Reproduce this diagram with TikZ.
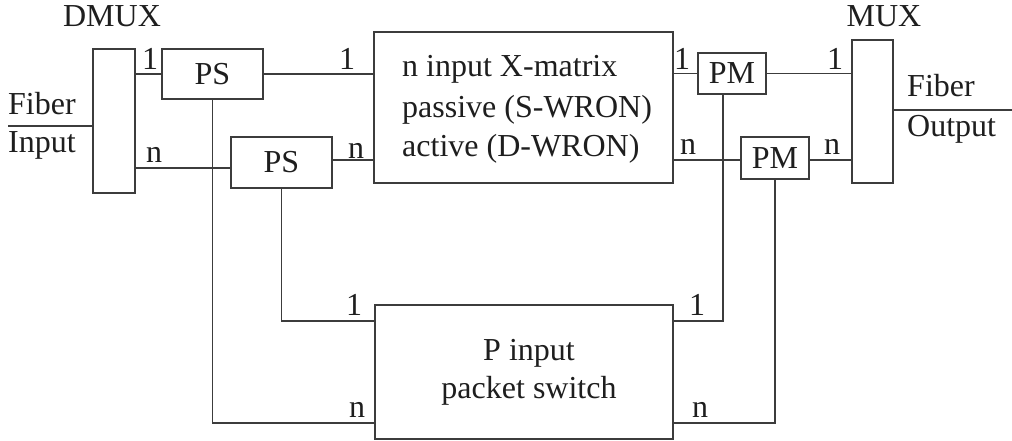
\documentclass[tikz,border=0pt]{standalone}
\usepackage{fontspec}
\setmainfont{Liberation Serif}
\definecolor{linec}{RGB}{60,60,60}
\definecolor{textc}{RGB}{30,30,30}
\begin{document}
\begin{tikzpicture}[x=1pt,y=-1pt,
  box/.style={draw=linec, line width=1.6pt, inner sep=0pt, text=textc,
              font=\fontsize{32}{38}\selectfont},
  txt/.style={inner sep=0pt, text=textc, font=\fontsize{32}{38}\selectfont},
  lbl/.style={txt, anchor=base},
  wire/.style={draw=linec, line width=1.6pt}]
\useasboundingbox[fill=white] (0,0) rectangle (1012,441);

% boxes
\node[box, minimum width=42pt, minimum height=144pt] (dmux) at (114,121) {};
\node[box, minimum width=101pt, minimum height=50pt] (ps1) at (212.5,74) {PS};
\node[box, minimum width=101pt, minimum height=51pt] (ps2) at (281.5,162.5) {PS};
\node[box, minimum width=299pt, minimum height=151pt] (xm) at (523.5,107.5) {};
\node[box, minimum width=68pt, minimum height=41pt] (pm1) at (732,73.5) {PM};
\node[box, minimum width=68pt, minimum height=42pt] (pm2) at (775,158) {PM};
\node[box, minimum width=41pt, minimum height=143pt] (mux) at (872.5,111.5) {};
\node[box, minimum width=298pt, minimum height=134pt] (pk) at (524,372) {};

% texts
\node[txt, anchor=base west] (xmt1) at (402,77) {n input X-matrix};
\node[txt, anchor=base west] (xmt2) at (402,118) {passive (S-WRON)};
\node[txt, anchor=base west] (xmt3) at (402,157) {active (D-WRON)};
\node[lbl] (pkt1) at (529,360) {P input};
\node[lbl] (pkt2) at (529,398) {packet switch};
\node[lbl] (dmuxt) at (112,27) {DMUX};
\node[lbl] (muxt) at (884,27) {MUX};
\node[txt, anchor=base west] (fin1) at (8,115) {Fiber};
\node[txt, anchor=base west] (fin2) at (8,153) {Input};
\node[txt, anchor=base west] (fout1) at (907,97) {Fiber};
\node[txt, anchor=base west] (fout2) at (907,137) {Output};

% free ends
\coordinate (fin) at (8,126);
\coordinate (fout) at (1012,110);

% connectors
\draw[wire] (fin) -- (fin -| dmux.west);
\draw[wire] (ps1.west -| dmux.east) -- (ps1.west);
\draw[wire] ([yshift=-5.5pt]ps2.west -| dmux.east) -- ([yshift=-5.5pt]ps2.west);
\draw[wire] (ps1.east) -- (ps1.east -| xm.west);
\draw[wire] ([yshift=2.5pt]ps2.east) -- ([yshift=2.5pt]ps2.east -| xm.west);
\draw[wire] (pm1.west -| xm.east) -- (pm1.west);
\draw[wire] ([yshift=-2pt]pm2.west -| xm.east) -- ([yshift=-2pt]pm2.west);
\draw[wire] (pm1.east) -- (pm1.east -| mux.west);
\draw[wire] ([yshift=-2pt]pm2.east) -- ([yshift=-2pt]pm2.east -| mux.west);
\draw[wire] (fout -| mux.east) -- (fout);
\draw[wire] (ps1.south) |- ([yshift=-51pt]pk.west);
\draw[wire] (ps2.south) |- ([yshift=51pt]pk.west);
\draw[wire] ([xshift=-9pt]pm1.south) |- ([yshift=51pt]pk.east);
\draw[wire] (pm2.south) |- ([yshift=-51pt]pk.east);

% port labels
\node[lbl] (l1) at (150,70) {1};
\node[lbl] (l2) at (154,163) {n};
\node[lbl] (l3) at (347,70) {1};
\node[lbl] (l4) at (356,158) {n};
\node[lbl] (l5) at (682,70) {1};
\node[lbl] (l6) at (688,155) {n};
\node[lbl] (l7) at (835,70) {1};
\node[lbl] (l8) at (832,155) {n};
\node[lbl] (l9) at (354,315) {1};
\node[lbl] (l10) at (357,417) {n};
\node[lbl] (l11) at (697,315) {1};
\node[lbl] (l12) at (700,417) {n};
\end{tikzpicture}
\end{document}
